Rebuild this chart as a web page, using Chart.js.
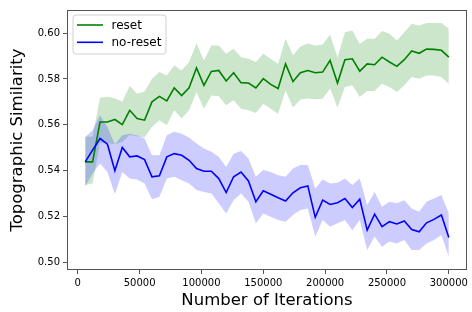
<!DOCTYPE html>
<html>
<head>
<meta charset="utf-8">
<script src="https://cdn.jsdelivr.net/npm/chart.js@4/dist/chart.umd.min.js"></script>
<style>
html,body{margin:0;padding:0;background:#fff;}
#c{display:block;}
</style>
</head>
<body>
<canvas id="c" width="472" height="312" style="width:472px;height:312px"></canvas>
<script>
const iterations = [6000,12000,18000,24000,30000,36000,42000,48000,54000,60000,
  66000,72000,78000,84000,90000,96000,102000,108000,114000,120000,
  126000,132000,138000,144000,150000,156000,162000,168000,174000,180000,
  186000,192000,198000,204000,210000,216000,222000,228000,234000,240000,
  246000,252000,258000,264000,270000,276000,282000,288000,294000,300000];

const resetMean = [0.5438,0.5438,0.5612,0.5612,0.5623,0.5601,0.5663,0.5627,0.5620,0.5700,
  0.5724,0.5704,0.5761,0.5727,0.5761,0.5848,0.5772,0.5833,0.5837,0.5791,
  0.5827,0.5784,0.5782,0.5761,0.5801,0.5776,0.5758,0.5866,0.5789,0.5827,
  0.5837,0.5827,0.5830,0.5881,0.5782,0.5884,0.5888,0.5834,0.5866,0.5862,
  0.5895,0.5874,0.5855,0.5884,0.5922,0.5912,0.5930,0.5929,0.5925,0.5895];
const resetUpper = [0.5547,0.5550,0.5718,0.5722,0.5716,0.5700,0.5770,0.5735,0.5745,0.5801,
  0.5830,0.5815,0.5859,0.5837,0.5874,0.5956,0.5881,0.5946,0.5946,0.5910,
  0.5932,0.5895,0.5888,0.5874,0.5910,0.5888,0.5866,0.5975,0.5903,0.5942,
  0.5955,0.5946,0.5950,0.5994,0.5895,0.6004,0.6012,0.5953,0.5975,0.5975,
  0.6009,0.5997,0.5968,0.6004,0.6041,0.6033,0.6044,0.6044,0.6044,0.6019];
const resetLower = [0.5337,0.5344,0.5520,0.5520,0.5515,0.5525,0.5555,0.5550,0.5545,0.5590,
  0.5620,0.5598,0.5663,0.5627,0.5663,0.5743,0.5670,0.5728,0.5724,0.5685,
  0.5707,0.5670,0.5663,0.5651,0.5692,0.5670,0.5648,0.5750,0.5675,0.5710,
  0.5715,0.5711,0.5714,0.5758,0.5675,0.5765,0.5772,0.5721,0.5747,0.5747,
  0.5779,0.5765,0.5743,0.5772,0.5808,0.5801,0.5815,0.5815,0.5808,0.5779];

const noResetMean = [0.5438,0.5489,0.5540,0.5515,0.5399,0.5501,0.5460,0.5464,0.5448,0.5373,
  0.5377,0.5460,0.5474,0.5467,0.5445,0.5409,0.5397,0.5397,0.5365,0.5304,
  0.5373,0.5394,0.5355,0.5264,0.5312,0.5297,0.5281,0.5267,0.5303,0.5325,
  0.5333,0.5196,0.5271,0.5252,0.5260,0.5278,0.5239,0.5275,0.5140,0.5210,
  0.5155,0.5177,0.5167,0.5180,0.5143,0.5133,0.5172,0.5187,0.5206,0.5108];
const noResetUpper = [0.5547,0.5576,0.5641,0.5590,0.5515,0.5554,0.5561,0.5554,0.5540,0.5467,
  0.5467,0.5554,0.5569,0.5561,0.5544,0.5518,0.5496,0.5482,0.5460,0.5416,
  0.5474,0.5486,0.5453,0.5373,0.5402,0.5394,0.5380,0.5373,0.5409,0.5424,
  0.5424,0.5322,0.5361,0.5344,0.5347,0.5365,0.5337,0.5365,0.5249,0.5307,
  0.5242,0.5264,0.5257,0.5271,0.5235,0.5220,0.5264,0.5278,0.5293,0.5213];
const noResetLower = [0.5329,0.5387,0.5431,0.5394,0.5297,0.5394,0.5365,0.5361,0.5344,0.5275,
  0.5286,0.5365,0.5373,0.5358,0.5344,0.5315,0.5307,0.5300,0.5257,0.5213,
  0.5271,0.5300,0.5264,0.5170,0.5213,0.5199,0.5184,0.5177,0.5206,0.5228,
  0.5235,0.5112,0.5184,0.5155,0.5170,0.5184,0.5140,0.5184,0.5053,0.5112,
  0.5068,0.5090,0.5082,0.5097,0.5053,0.5053,0.5082,0.5097,0.5119,0.5024];

const xTicks = [0,50000,100000,150000,200000,250000,300000];
const yTicks = [0.50,0.52,0.54,0.56,0.58,0.60];
const seriesNames = ['reset','no-reset'];
const xLabel = 'Number of Iterations';
const yLabel = 'Topographic Similarity';

const GREEN = '#008000', BLUE = '#0000ff';
const GREEN_FILL = 'rgba(0,128,0,0.2)', BLUE_FILL = 'rgba(0,0,255,0.2)';
const SPINE = '#555555';
const FONT = "'DejaVu Sans', sans-serif";

const pts = arr => iterations.map((x, i) => ({x: x, y: arr[i]}));

const lineDs = (label, arr, color) => ({
  label: label, data: pts(arr), borderColor: color, backgroundColor: color,
  borderWidth: 1.6, pointRadius: 0, fill: false, tension: 0
});
const bandDs = (arr, fillTarget, fillColor) => ({
  label: '', data: pts(arr), borderWidth: 0, borderColor: 'rgba(0,0,0,0)',
  pointRadius: 0, fill: fillTarget, backgroundColor: fillColor, tension: 0
});

const framePlugin = {
  id: 'frame',
  afterDraw(chart) {
    const {ctx, chartArea: a} = chart;
    ctx.save();
    ctx.strokeStyle = SPINE;
    ctx.lineWidth = 1;
    const l = Math.round(a.left) + 0.5, t = Math.round(a.top) + 0.5;
    const r = Math.round(a.right) - 0.5, b = Math.round(a.bottom) - 0.5;
    ctx.strokeRect(l, t, r - l, b - t);
    ctx.restore();
  }
};

const legendPlugin = {
  id: 'innerLegend',
  afterDatasetsDraw(chart) {
    const {ctx, chartArea: a} = chart;
    const x0 = a.left + 6, y0 = a.top + 5, w = 93, h = 39, rad = 3;
    ctx.save();
    ctx.beginPath();
    ctx.moveTo(x0 + rad, y0);
    ctx.lineTo(x0 + w - rad, y0); ctx.quadraticCurveTo(x0 + w, y0, x0 + w, y0 + rad);
    ctx.lineTo(x0 + w, y0 + h - rad); ctx.quadraticCurveTo(x0 + w, y0 + h, x0 + w - rad, y0 + h);
    ctx.lineTo(x0 + rad, y0 + h); ctx.quadraticCurveTo(x0, y0 + h, x0, y0 + h - rad);
    ctx.lineTo(x0, y0 + rad); ctx.quadraticCurveTo(x0, y0, x0 + rad, y0);
    ctx.closePath();
    ctx.fillStyle = 'rgba(255,255,255,0.8)';
    ctx.fill();
    ctx.strokeStyle = '#d0d0d0';
    ctx.lineWidth = 1;
    ctx.stroke();
    const colors = [GREEN, BLUE];
    ctx.font = '12px ' + FONT;
    ctx.textBaseline = 'middle';
    ctx.fillStyle = '#000';
    seriesNames.forEach((name, i) => {
      const y = y0 + 10 + i * 17.3;
      ctx.beginPath();
      ctx.strokeStyle = colors[i];
      ctx.lineWidth = 1.6;
      ctx.moveTo(x0 + 4, y);
      ctx.lineTo(x0 + 30, y);
      ctx.stroke();
      ctx.fillText(name, x0 + 38.5, y + 0.5);
    });
    ctx.restore();
  }
};

new Chart(document.getElementById('c'), {
  type: 'line',
  data: {
    datasets: [
      lineDs(seriesNames[1], noResetMean, BLUE),
      lineDs(seriesNames[0], resetMean, GREEN),
      bandDs(noResetUpper, false, BLUE_FILL),
      bandDs(noResetLower, '-1', BLUE_FILL),
      bandDs(resetUpper, false, GREEN_FILL),
      bandDs(resetLower, '-1', GREEN_FILL)
    ]
  },
  options: {
    responsive: false,
    devicePixelRatio: 1,
    animation: false,
    layout: {padding: {top: 10, right: 5, left: 0, bottom: 0}},
    plugins: {legend: {display: false}, tooltip: {enabled: false}},
    scales: {
      x: {
        type: 'linear',
        min: -8700, max: 314700,
        afterBuildTicks: s => { s.ticks = xTicks.map(v => ({value: v})); },
        afterFit: s => { s.height = 42; },
        grid: {display: true, drawOnChartArea: false, drawTicks: true, tickLength: 4, color: SPINE},
        border: {display: false},
        ticks: {font: {family: FONT, size: 10}, color: '#000', padding: 3, maxRotation: 0,
                callback: v => String(v)},
        title: {display: true, text: xLabel, font: {family: FONT, size: 16.5, lineHeight: 1.2}, color: '#000',
                padding: {top: 0, bottom: 1}}
      },
      y: {
        type: 'linear',
        min: 0.4966, max: 0.6101,
        afterBuildTicks: s => { s.ticks = yTicks.map(v => ({value: v})); },
        afterFit: s => { s.width = 67; },
        grid: {display: true, drawOnChartArea: false, drawTicks: true, tickLength: 4, color: SPINE},
        border: {display: false},
        ticks: {font: {family: FONT, size: 10}, color: '#000', padding: 3,
                callback: v => Number(v).toFixed(2)},
        title: {display: true, text: yLabel, font: {family: FONT, size: 16.5, lineHeight: 1.2}, color: '#000',
                padding: {top: 8, bottom: 0}}
      }
    }
  },
  plugins: [framePlugin, legendPlugin]
});
</script>
</body>
</html>
